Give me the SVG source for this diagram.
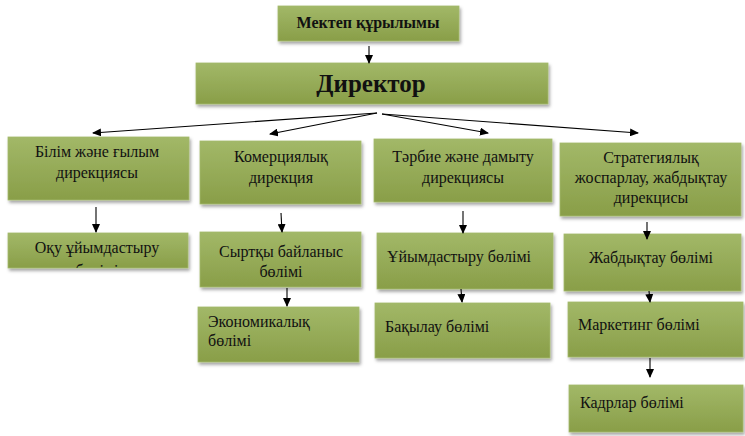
<svg xmlns="http://www.w3.org/2000/svg" width="745" height="436" viewBox="0 0 745 436">
<style>
.box{fill:url(#g);stroke:#a4ba6c;stroke-width:0.8;filter:url(#sh)}
.t{font-family:"Liberation Serif","Times New Roman",serif;font-size:16px;fill:#111}
.c{text-anchor:middle}
.b{font-weight:bold}
.ln{stroke:#000;stroke-width:1.1;fill:none;marker-end:url(#ah)}
</style>
<defs>
<linearGradient id="g" x1="0" y1="0" x2="0" y2="1">
<stop offset="0" stop-color="#a2b868"/>
<stop offset="1" stop-color="#899e48"/>
</linearGradient>
<filter id="sh" x="-10%" y="-10%" width="120%" height="140%">
<feDropShadow dx="1.5" dy="2.5" stdDeviation="1.5" flood-color="#000" flood-opacity="0.35"/>
</filter>
<marker id="ah" markerWidth="9" markerHeight="8" refX="8" refY="4" orient="auto" markerUnits="userSpaceOnUse">
<path d="M0,0 L9,4 L0,8 Z" fill="#000"/>
</marker>
<clipPath id="clipOku"><rect x="8" y="233" width="180" height="35"/></clipPath>
</defs>

<g id="n-mektep">
<rect class="box" x="278" y="6" width="181" height="35"/>
<text class="t c b" x="368" y="28" font-size="15">Мектеп құрылымы</text>
</g>
<g id="n-director">
<rect class="box" x="196" y="63" width="352" height="41"/>
<text class="t c b" x="371" y="92" style="font-size:25px">Директор</text>
</g>
<g id="n-bilim">
<rect class="box" x="8" y="137" width="181" height="63"/>
<text class="t c" x="97" y="157">Білім және ғылым</text>
<text class="t c" x="97" y="178">дирекциясы</text>
</g>
<g id="n-komerc">
<rect class="box" x="200" y="141" width="161" height="63"/>
<text class="t c" x="281" y="162">Комерциялық</text>
<text class="t c" x="281" y="183">дирекция</text>
</g>
<g id="n-tarbie">
<rect class="box" x="374" y="139" width="178" height="63"/>
<text class="t c" x="463" y="162">Тәрбие және дамыту</text>
<text class="t c" x="463" y="183">дирекциясы</text>
</g>
<g id="n-strat">
<rect class="box" x="560" y="143" width="181" height="73"/>
<text class="t c" x="651" y="163">Стратегиялық</text>
<text class="t c" x="651" y="183">жоспарлау, жабдықтау</text>
<text class="t c" x="651" y="203">дирекцисы</text>
</g>
<g id="n-oku">
<rect class="box" x="8" y="233" width="180" height="35"/>
<g clip-path="url(#clipOku)">
<text class="t c" x="97" y="253">Оқу ұйымдастыру</text>
<text class="t c" x="97" y="276">бөлімі</text>
</g>
</g>
<g id="n-syrtky">
<rect class="box" x="200" y="232" width="161" height="55"/>
<text class="t c" x="281" y="257">Сыртқы байланыс</text>
<text class="t c" x="281" y="277">бөлімі</text>
</g>
<g id="n-uiym">
<rect class="box" x="377" y="233" width="176" height="56"/>
<text class="t" x="387" y="262">Ұйымдастыру бөлімі</text>
</g>
<g id="n-zhabd">
<rect class="box" x="564" y="234" width="177" height="57"/>
<text class="t c" x="651" y="263">Жабдықтау бөлімі</text>
</g>
<g id="n-ekon">
<rect class="box" x="198" y="307" width="161" height="55"/>
<text class="t" x="208" y="327">Экономикалық</text>
<text class="t" x="208" y="346">бөлімі</text>
</g>
<g id="n-bakylau">
<rect class="box" x="375" y="303" width="175" height="55"/>
<text class="t" x="385" y="332">Бақылау бөлімі</text>
</g>
<g id="n-marketing">
<rect class="box" x="568" y="302" width="175" height="55"/>
<text class="t" x="578" y="330">Маркетинг бөлімі</text>
</g>
<g id="n-kadr">
<rect class="box" x="569" y="385" width="174" height="47"/>
<text class="t" x="580" y="408">Кадрлар бөлімі</text>
</g>

<g id="connectors">
<line class="ln" x1="369" y1="46" x2="369" y2="63"/>
<line class="ln" x1="377" y1="113" x2="93" y2="133"/>
<line class="ln" x1="377" y1="113" x2="270" y2="134"/>
<line class="ln" x1="382" y1="114" x2="488" y2="133"/>
<line class="ln" x1="382" y1="114" x2="638" y2="133"/>
<line class="ln" x1="96" y1="207" x2="96" y2="232"/>
<line class="ln" x1="281" y1="213" x2="282" y2="232"/>
<line class="ln" x1="463" y1="211" x2="463" y2="233"/>
<line class="ln" x1="647" y1="222" x2="647" y2="239"/>
<line class="ln" x1="287" y1="288" x2="287" y2="306"/>
<line class="ln" x1="461" y1="289" x2="462" y2="302"/>
<line class="ln" x1="649" y1="291" x2="650" y2="302"/>
<line class="ln" x1="650" y1="358" x2="650" y2="377"/>
</g>
</svg>
